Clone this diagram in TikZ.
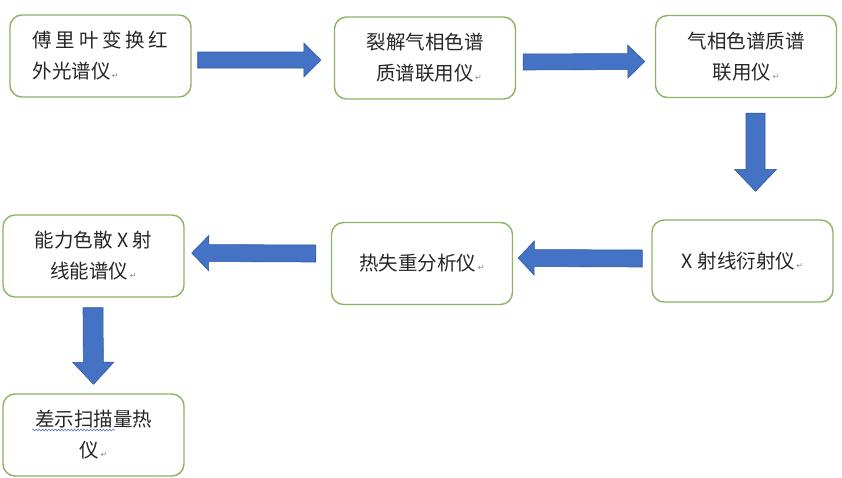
\documentclass[tikz,border=0pt]{standalone}
\usepackage{fontspec}
\newfontfamily\cjk{Noto Sans CJK SC}
\newfontfamily\symf{DejaVu Sans}
\usetikzlibrary{calc,decorations.pathmorphing}
\definecolor{boxgreen}{RGB}{140,180,100}
\definecolor{arrblue}{RGB}{68,114,196}
\definecolor{arredge}{RGB}{50,90,160}
\definecolor{wavyblue}{RGB}{90,120,210}
\newcommand\pmark{{\symf\fontsize{8}{8}\selectfont\color{black!45}\,↵}}
\newcommand\blockarr[5]{%
  \coordinate (ba-h) at ($(#2)!#5pt!(#1)$);
  \filldraw[blockarrow] ($(#1)!#3pt!90:(#2)$) -- ($(ba-h)!#3pt!-90:(#1)$) -- ($(ba-h)!#4pt!-90:(#1)$) -- (#2) -- ($(ba-h)!#4pt!90:(#1)$) -- ($(ba-h)!#3pt!90:(#1)$) -- ($(#1)!#3pt!-90:(#2)$) -- cycle;}
\tikzset{
  instbox/.style={draw=boxgreen, line width=1.4pt, rounded corners=12pt, fill=white,
    minimum width=181pt, minimum height=82pt, inner sep=0pt,
    font=\cjk\fontsize{19.5}{31}\selectfont, align=center, text=black!85},
  blockarrow/.style={fill=arrblue, draw=arredge, line width=0.6pt, line join=miter},
  wavy/.style={draw=wavyblue, line width=0.6pt, decorate, decoration={snake, amplitude=0.9pt, segment length=3.2pt}}
}
\begin{document}
\begin{tikzpicture}[x=1pt,y=1pt]
\useasboundingbox (0,0) rectangle (842,-477);
\node[instbox, align=left] (b1) at (100.5,-56) {\makebox[136pt][l]{傅\hfill 里\hfill 叶\hfill 变\hfill 换\hfill 红}\\外光谱仪\pmark};
\node[instbox] (b2) at (425,-58) {裂解气相色谱\\\hspace*{8pt}质谱联用仪\pmark};
\node[instbox] (b3) at (746,-56.5) {气相色谱质谱\\联用仪\pmark};
\node[instbox] (b4) at (742.5,-261) {X 射线衍射仪\pmark};
\node[instbox] (b5) at (422,-263.5) {热失重分析仪\pmark};
\node[instbox] (b6) at (93.5,-256) {能力色散 X 射\\线能谱仪\pmark};
\node[instbox] (b7) at (93.5,-435) {差示扫描量热\\仪\pmark};

\coordinate (a1s) at ($(b1.east)+(6,-4)$);
\coordinate (a1e) at ($(b2.west)+(-13,-2)$);
\coordinate (a2s) at ($(b2.east)+(7,-4)$);
\coordinate (a2e) at ($(b3.west)+(-10,-5)$);
\coordinate (a3s) at ($(b3.south)+(9.5,-15)$);
\coordinate (a3e) at ($(b4.north)+(13,28)$);
\coordinate (a4s) at ($(b4.west)+(-9,2.5)$);
\coordinate (a4e) at ($(b5.east)+(5,5.5)$);
\coordinate (a5s) at ($(b5.west)+(-15,10)$);
\coordinate (a5e) at ($(b6.east)+(7,3)$);
\coordinate (a6s) at ($(b6.south)+(-0.5,-10)$);
\coordinate (a6e) at ($(b7.north)+(0,9)$);

\blockarr{a1s}{a1e}{8}{17}{17}
\blockarr{a2s}{a2e}{8}{16.5}{17}
\blockarr{a3s}{a3e}{9.5}{21}{22}
\blockarr{a4s}{a4e}{8.5}{17}{16}
\blockarr{a5s}{a5e}{8.5}{17.5}{17}
\blockarr{a6s}{a6e}{10}{20.5}{22}

\coordinate (w1) at ($(b7.center)+(-61.5,5)$);
\coordinate (w2) at ($(b7.center)+(21.5,5)$);
\draw[wavy] (w1) -- (w2);
\end{tikzpicture}
\end{document}
